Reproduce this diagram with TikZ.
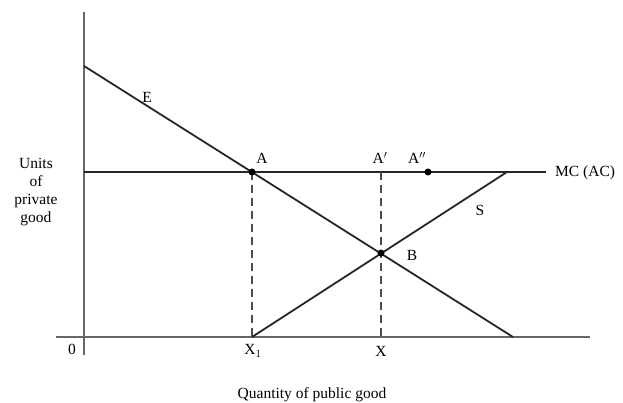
\documentclass[tikz,border=0pt]{standalone}
\usepackage{fontspec}
\setmainfont{Liberation Serif}
\begin{document}
\begin{tikzpicture}[x=1pt,y=-1pt,
  axis/.style={line width=2.2pt,black!60},
  curve/.style={line width=1.8pt,black!85},
  guide/.style={line width=1.6pt,black!70,dash pattern=on 8pt off 5pt},
  lbl/.style={font=\fontsize{15.5}{17}\selectfont,inner sep=0pt},
  pt/.style={circle,fill=black,inner sep=0pt,minimum size=7pt}]
\useasboundingbox (0,0) rectangle (623,403);
% key coordinates
\coordinate (ytop) at (84,12);
\coordinate (ybot) at (84,355);
\coordinate (xleft) at (56,337);
\coordinate (xright) at (590,337);
\coordinate (Estart) at (84,66);
\coordinate (Eend) at (513,337);
\coordinate (MCstart) at (84,172);
\coordinate (MCend) at (546,172);
\coordinate (Stop) at (507,172);
\coordinate (X1) at (252,337);
\coordinate (X) at (381,337);
\coordinate (A) at (252,172);
\coordinate (B) at (381,253);
\coordinate (App) at (428,172);
\coordinate (Ap) at (381,172);
% axes
\draw[axis] (ytop) -- (ybot);
\draw[axis] (xleft) -- (xright);
% curves
\draw[curve] (MCstart) -- (MCend);
\draw[curve] (Estart) -- (Eend);
\draw[curve] (X1) -- (Stop);
\draw[guide] (A) -- (X1);
\draw[guide] (Ap) -- (X);
% dots
\node[pt] (dA) at (A) {};
\node[pt] (dB) at (B) {};
\node[pt] (dApp) at (App) {};
% labels
\node[lbl] (lE) at (147,97) {E};
\node[lbl] (lA) at (262,158) {A};
\node[lbl] (lAp) at (380,158) {A$'$};
\node[lbl] (lApp) at (417,158) {A$''$};
\node[lbl] (lB) at (412,255) {B};
\node[lbl] (lS) at (480,210) {S};
\node[lbl,anchor=west] (lMC) at (555,173) {MC (AC)};
\node[lbl] (l0) at (72,349) {0};
\node[lbl] (lX1) at (253,351) {X$_1$};
\node[lbl] (lX) at (381,351) {X};
\node[lbl,align=center,font=\fontsize{15.5}{18}\selectfont] (ly) at (36,192) {Units\\of\\private\\good};
\node[lbl] (lx) at (312,395) {Quantity of public good};
\end{tikzpicture}
\end{document}
